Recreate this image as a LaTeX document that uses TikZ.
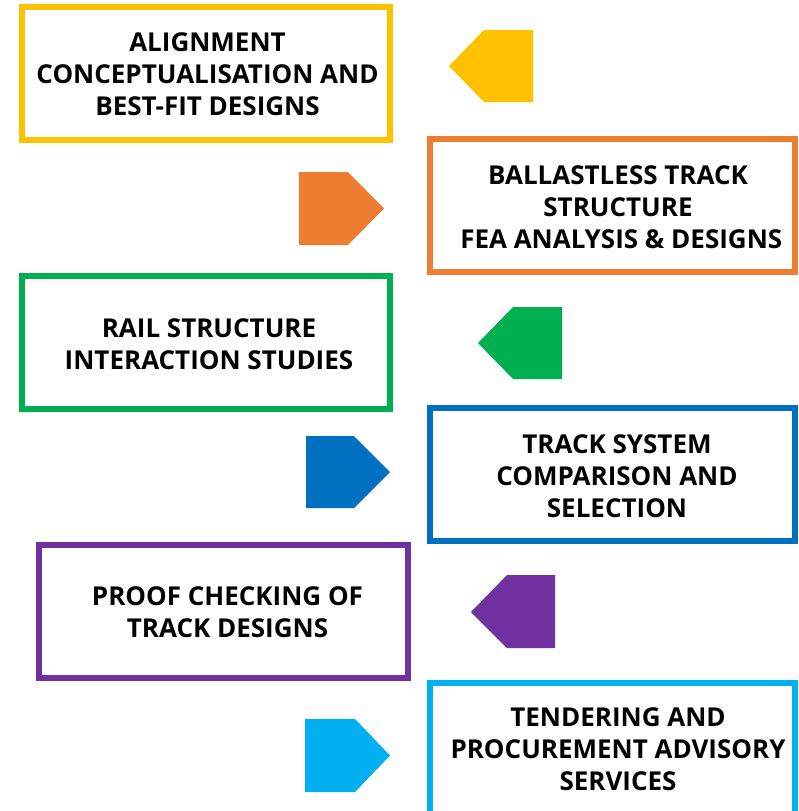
\documentclass[tikz,border=0pt]{standalone}
\usepackage{fontspec}
\setmainfont{Open Sans}
\definecolor{cyel}{HTML}{FFC000}
\definecolor{cora}{HTML}{ED7D31}
\definecolor{cgrn}{HTML}{00B050}
\definecolor{cblu}{HTML}{0070C0}
\definecolor{cpur}{HTML}{7030A0}
\definecolor{ccya}{HTML}{00B0F0}
\tikzset{
  frame/.style={draw=#1, line width=6pt, fill=white},
  label/.style={align=center, inner sep=0pt, font=\fontsize{26}{32}\selectfont\bfseries, text=black},
}
\begin{document}
\begin{tikzpicture}[x=1pt,y=-1pt]
\useasboundingbox (0,0) rectangle (798,811);
\begin{scope}
\clip (0,0) rectangle (798,811);
% frames
\draw[frame=cyel] (22,7) rectangle (390,140);
\draw[frame=cora] (430,139) rectangle (795,272);
\draw[frame=cgrn] (22,276) rectangle (390,409);
\draw[frame=cblu] (430,408) rectangle (795,541);
\draw[frame=cpur] (39,545) rectangle (408,678);
\draw[frame=ccya] (430,683) rectangle (795,816);
% arrows
\fill[cyel] (449,66) -- (484,30) -- (533,30) -- (533,102) -- (484,102) -- cycle;
\fill[cora] (384,208.5) -- (348,172) -- (299,172) -- (299,245) -- (348,245) -- cycle;
\fill[cgrn] (478,343) -- (513,307) -- (562,307) -- (562,379) -- (513,379) -- cycle;
\fill[cblu] (390,472) -- (354,436) -- (306,436) -- (306,508) -- (354,508) -- cycle;
\fill[cpur] (471,612) -- (507,575) -- (555,575) -- (555,648) -- (507,648) -- cycle;
\fill[ccya] (390,755.5) -- (355,719) -- (305,719) -- (305,792) -- (355,792) -- cycle;
\end{scope}
% labels
\node[label] (t1) at (207.5,74) {ALIGNMENT\\CONCEPTUALISATION AND\\BEST-FIT DESIGNS};
\node[label] (t2) at (618,207.5) {BALLASTLESS TRACK\\STRUCTURE\\\hspace*{6.5pt}FEA ANALYSIS \& DESIGNS};
\node[label] (t3) at (209,344.5) {RAIL STRUCTURE\\INTERACTION STUDIES};
\node[label] (t4) at (617,476) {TRACK SYSTEM\\COMPARISON AND\\SELECTION};
\node[label] (t5) at (227.5,612) {PROOF CHECKING OF\\TRACK DESIGNS};
\node[label] (t6) at (618,749.5) {TENDERING AND\\PROCUREMENT ADVISORY\\SERVICES};
\end{tikzpicture}
\end{document}
